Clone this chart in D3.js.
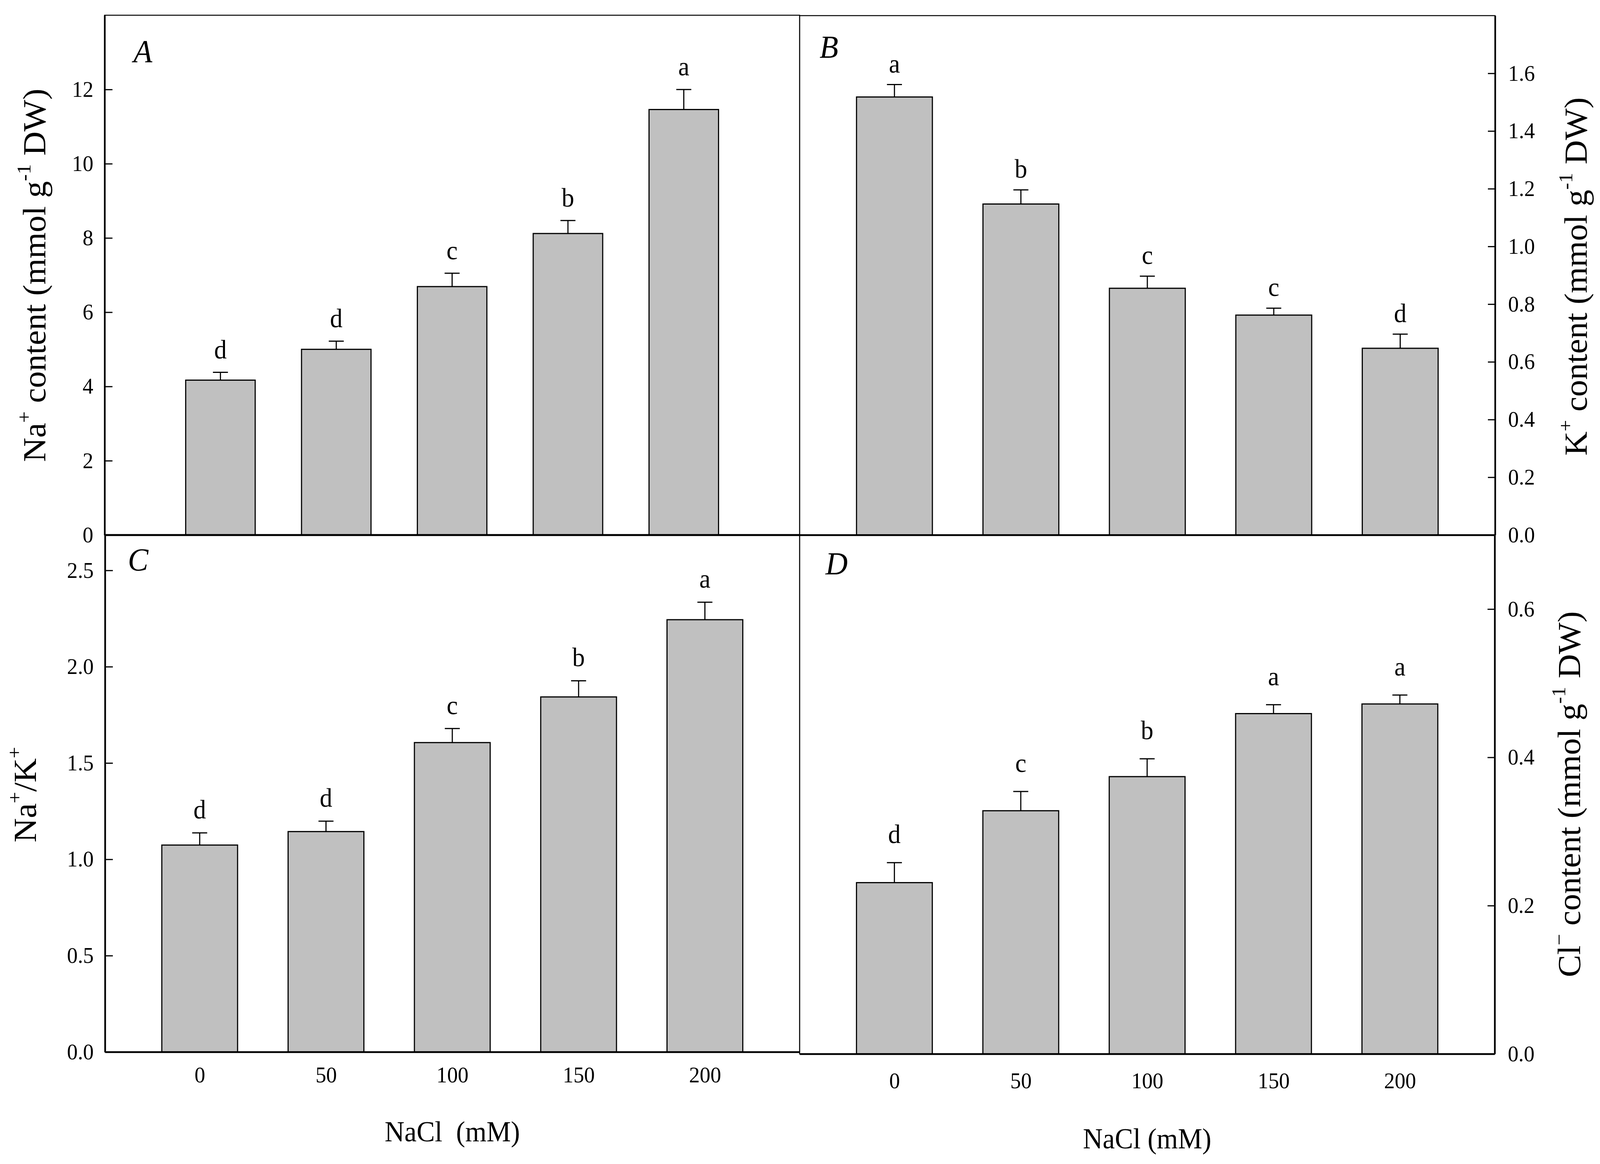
<!DOCTYPE html>
<html>
<head>
<meta charset="utf-8">
<script src="https://cdn.jsdelivr.net/npm/d3@7"></script>
<style>
  html, body { margin: 0; padding: 0; width: 100%; height: 100%; overflow: hidden; background: #fff; }
  svg { display: block; }
  text { font-family: "Liberation Serif", "Times New Roman", serif; fill: #000; }
</style>
</head>
<body>
<script>

// NaCl levels (mM)
var nacl = [0, 50, 100, 150, 200];

// A: Na+ content (mmol g-1 DW)
var naMean = [4.17, 5.00, 6.69, 8.12, 11.46];
var naErr  = [0.21, 0.22, 0.36, 0.35, 0.54];
var naSig  = ["d", "d", "c", "b", "a"];

// B: K+ content (mmol g-1 DW)
var kMean = [1.518, 1.147, 0.855, 0.762, 0.647];
var kErr  = [0.043, 0.049, 0.042, 0.024, 0.049];
var kSig  = ["a", "b", "c", "c", "d"];

// C: Na+/K+ ratio
var ratioMean = [1.074, 1.144, 1.606, 1.843, 2.244];
var ratioErr  = [0.063, 0.054, 0.073, 0.084, 0.091];
var ratioSig  = ["d", "d", "c", "b", "a"];

// D: Cl- content (mmol g-1 DW)
var clMean = [0.231, 0.328, 0.374, 0.459, 0.472];
var clErr  = [0.027, 0.026, 0.024, 0.012, 0.012];
var clSig  = ["d", "c", "b", "a", "a"];

// axis ticks
var naTicks = [0, 2, 4, 6, 8, 10, 12];
var kTicks = [0, 0.2, 0.4, 0.6, 0.8, 1.0, 1.2, 1.4, 1.6];
var ratioTicks = [0, 0.5, 1.0, 1.5, 2.0, 2.5];
var clTicks = [0, 0.2, 0.4, 0.6];

var W = 4268, H = 2981;

// scale the drawing to whatever the viewport really is
var svg = d3.select("body").append("svg")
    .attr("viewBox", "0 0 " + W + " " + H)
    .attr("preserveAspectRatio", "none")
    .attr("width", "100%")
    .attr("height", "100%");

svg.append("rect").attr("width", W).attr("height", H).attr("fill", "#fff");

// panel layout
var panels = [
  { tag: "A", left: 279, right: 2133, top: 39, bottom: 1370,
    xDom: [-50, 250], yDom: [0, 14], ticks: naTicks, fmt: d3.format("d"), side: "left",
    mean: naMean, err: naErr, sig: naSig, gap: 36, tagPos: [356, 159],
    xLabels: false },
  { tag: "B", left: 2133, right: 3988, top: 40, bottom: 1370,
    xDom: [-37.5, 237.5], yDom: [0, 1.8], ticks: kTicks, fmt: d3.format(".1f"), side: "right",
    mean: kMean, err: kErr, sig: kSig, gap: 31, tagPos: [2186, 148],
    xLabels: false },
  { tag: "C", left: 280, right: 2133, top: 1369, bottom: 2694,
    xDom: [-37.5, 237.5], yDom: [0, 2.686], ticks: ratioTicks, fmt: d3.format(".1f"), side: "left",
    mean: ratioMean, err: ratioErr, sig: ratioSig, gap: 37, tagPos: [341, 1461],
    xLabels: true, xPad: 38, xTitle: "NaCl\u00a0\u00a0(mM)", xTitleY: 2923 },
  { tag: "D", left: 2133, right: 3987, top: 1370, bottom: 2699,
    xDom: [-37.5, 237.5], yDom: [0, 0.7], ticks: clTicks, fmt: d3.format(".1f"), side: "right",
    mean: clMean, err: clErr, sig: clSig, gap: 50, tagPos: [2202, 1471],
    xLabels: true, xPad: 48, xTitle: "NaCl (mM)", xTitleY: 2941 }
];

panels.forEach(function(p) {

  var x = d3.scaleLinear().domain(p.xDom).range([p.left, p.right]);
  var y = d3.scaleLinear().domain(p.yDom).range([p.bottom, p.top]);
  var step = x(50) - x(0);
  var bw = step * 0.6;
  var cap = 40;

  var g = svg.append("g").attr("class", "panel-" + p.tag);

  // thin frame
  g.append("rect")
    .attr("x", p.left).attr("y", p.top)
    .attr("width", p.right - p.left).attr("height", p.bottom - p.top)
    .attr("fill", "none").attr("stroke", "#000").attr("stroke-width", 2.5);

  // bars
  g.selectAll("rect.bar")
    .data(nacl)
    .enter()
    .append("rect")
    .attr("class", "bar")
    .attr("x", function(d) { return x(d) - bw / 2; })
    .attr("y", function(d, i) { return y(p.mean[i]); })
    .attr("width", bw)
    .attr("height", function(d, i) { return y(0) - y(p.mean[i]); })
    .attr("fill", "#c0c0c0")
    .attr("stroke", "#000")
    .attr("stroke-width", 3);

  // error bars (upper only)
  g.selectAll("line.err")
    .data(nacl)
    .enter()
    .append("line")
    .attr("x1", function(d) { return x(d); })
    .attr("x2", function(d) { return x(d); })
    .attr("y1", function(d, i) { return y(p.mean[i]); })
    .attr("y2", function(d, i) { return y(p.mean[i] + p.err[i]); })
    .attr("stroke", "#000").attr("stroke-width", 3);

  g.selectAll("line.cap")
    .data(nacl)
    .enter()
    .append("line")
    .attr("x1", function(d) { return x(d) - cap / 2; })
    .attr("x2", function(d) { return x(d) + cap / 2; })
    .attr("y1", function(d, i) { return y(p.mean[i] + p.err[i]); })
    .attr("y2", function(d, i) { return y(p.mean[i] + p.err[i]); })
    .attr("stroke", "#000").attr("stroke-width", 3);

  // significance letters
  g.selectAll("text.sig")
    .data(nacl)
    .enter()
    .append("text")
    .attr("x", function(d) { return x(d); })
    .attr("y", function(d, i) { return y(p.mean[i] + p.err[i]) - p.gap; })
    .attr("text-anchor", "middle")
    .style("font-size", "67px")
    .text(function(d, i) { return p.sig[i]; });

  // y axis, ticks inside
  var yAxis = (p.side == "left" ? d3.axisLeft(y) : d3.axisRight(y))
    .tickValues(p.ticks)
    .tickFormat(p.fmt)
    .tickSizeInner(p.side == "left" ? -21 : -19)
    .tickSizeOuter(0)
    .tickPadding(p.side == "left" ? 30 : 35);

  var ya = g.append("g")
    .attr("transform", "translate(" + (p.side == "left" ? p.left : p.right) + ",0)")
    .call(yAxis);
  ya.select(".domain").attr("stroke-width", 4.5);
  ya.selectAll(".tick line").attr("stroke-width", 3);
  ya.selectAll(".tick text")
    .style("font-size", "57px")
    .style("font-family", "Liberation Serif, serif")
    .attr("fill", "#000");

  // x axis (bottom line + labels)
  var xAxis = d3.axisBottom(x)
    .tickValues(p.xLabels ? nacl : [])
    .tickFormat(d3.format("d"))
    .tickSize(0)
    .tickPadding(p.xPad || 0);

  var xa = g.append("g")
    .attr("transform", "translate(0," + p.bottom + ")")
    .call(xAxis);
  xa.select(".domain").attr("stroke-width", 4.5);
  xa.selectAll(".tick text")
    .style("font-size", "57px")
    .style("font-family", "Liberation Serif, serif")
    .attr("fill", "#000");

  if (p.xLabels) {
    g.append("text")
      .attr("x", (p.left + p.right) / 2)
      .attr("y", p.xTitleY)
      .attr("text-anchor", "middle")
      .style("font-size", "73px")
      .text(p.xTitle);
  }

  // panel tag
  g.append("text")
    .attr("x", p.tagPos[0])
    .attr("y", p.tagPos[1])
    .style("font-size", "82px")
    .style("font-style", "italic")
    .text(p.tag);
});

// rotated axis titles with superscripts
function yTitle(px, py, parts) {
  var t = svg.append("text")
    .attr("transform", "translate(" + px + "," + py + ") rotate(-90)")
    .attr("text-anchor", "middle")
    .style("font-size", "86px");
  var raised = false;
  parts.forEach(function(s) {
    var ts = t.append("tspan").text(s[0]);
    if (s[1]) {
      ts.style("font-size", "52px").attr("dy", raised ? 0 : "-0.75em");
      raised = true;
    } else {
      if (raised) ts.attr("dy", "0.45em");
      raised = false;
    }
  });
}

yTitle(121, 705, [["Na", 0], ["+", 1], ["\u00a0content (mmol g", 0], ["-1", 1], ["\u00a0DW)", 0]]);
yTitle(4233, 708, [["K", 0], ["+", 1], ["\u00a0content (mmol g", 0], ["-1", 1], ["\u00a0DW)", 0]]);
yTitle(96, 2035, [["Na", 0], ["+", 1], ["/K", 0], ["+", 1]]);
yTitle(4215, 2034, [["Cl", 0], ["\u2212", 1], ["\u00a0content (mmol g", 0], ["-1", 1], ["\u00a0DW)", 0]]);

</script>
</body>
</html>
